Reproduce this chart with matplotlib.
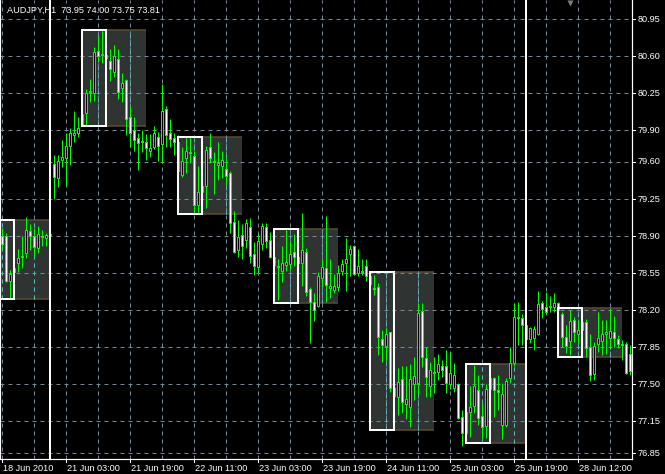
import matplotlib
matplotlib.use('Agg')
import matplotlib.pyplot as plt
from matplotlib.patches import Rectangle

title = 'AUDJPY,H1  73.95 74.00 73.75 73.81'

# hourly bars, left to right
opens = [78.90, 78.90, 78.48, 78.56, 78.65, 78.70, 78.74, 78.95, 78.90, 78.79,
         78.90, 78.88, 78.91, 79.58, 79.45, 79.62, 79.64, 79.75, 79.85, 79.87,
         79.95, 80.06, 80.26, 80.25, 80.65, 80.61, 80.61, 80.55, 80.45, 80.57,
         80.30, 80.37, 80.02, 79.90, 79.83, 79.80, 79.79, 79.70, 79.74, 79.84,
         79.77, 80.10, 79.87, 79.83, 79.79, 79.48, 79.64, 79.69, 79.66, 79.19,
         79.32, 79.37, 79.74, 79.61, 79.57, 79.56, 79.53, 79.50, 79.03, 78.77,
         78.91, 78.86, 78.99, 78.73, 78.61, 78.83, 78.99, 78.86, 78.70, 78.62,
         78.57, 78.63, 78.64, 78.75, 78.70, 78.65, 78.75, 78.40, 78.28, 78.24,
         78.50, 78.60, 78.41, 78.39, 78.42, 78.57, 78.65, 78.73, 78.81, 78.55,
         78.57, 78.62, 78.52, 78.41, 78.42, 77.93, 77.86, 77.99, 77.47, 77.38,
         77.55, 77.31, 77.29, 77.50, 77.51, 78.19, 77.75, 77.48, 77.61, 77.62,
         77.67, 77.67, 77.50, 77.47, 77.50, 77.19, 77.04, 77.24, 77.30, 77.45,
         77.20, 77.11, 77.46, 77.56, 77.45, 77.12, 77.12, 77.56, 77.70, 78.14,
         78.13, 78.06, 77.93, 77.94, 77.98, 78.27, 78.23, 78.23, 78.23, 78.27,
         78.16, 77.95, 77.91, 78.11, 77.98, 78.01, 78.09, 77.85, 77.60, 77.88,
         77.91, 77.98, 77.94, 77.99, 77.93, 77.88, 77.88, 77.79]
highs = [78.98, 78.93, 78.58, 78.63, 78.78, 78.90, 79.08, 79.01, 78.98, 79.00,
         78.96, 78.93, 78.95, 79.67, 79.67, 79.81, 79.87, 79.92, 80.08, 80.02,
         80.08, 80.29, 80.38, 80.69, 80.79, 80.85, 80.68, 80.67, 80.70, 80.67,
         80.44, 80.38, 80.13, 80.02, 79.87, 79.90, 79.86, 79.86, 79.94, 79.88,
         80.34, 80.13, 80.01, 79.87, 79.85, 79.74, 79.83, 79.84, 79.70, 79.56,
         79.40, 79.75, 79.87, 79.69, 79.79, 79.70, 79.64, 79.51, 79.14, 79.05,
         79.01, 79.06, 79.07, 78.84, 78.92, 79.02, 79.02, 78.94, 78.73, 78.68,
         78.81, 78.97, 78.85, 78.92, 78.77, 79.12, 78.79, 78.42, 78.36, 78.56,
         78.68, 79.09, 78.68, 78.54, 78.63, 78.68, 78.88, 78.82, 78.82, 78.78,
         78.68, 78.68, 78.55, 78.53, 78.46, 78.01, 78.03, 77.99, 77.54, 77.65,
         77.67, 77.67, 77.69, 77.76, 78.27, 78.27, 77.85, 77.71, 77.76, 77.79,
         77.73, 77.82, 77.81, 77.70, 77.51, 77.26, 77.26, 77.48, 77.68, 77.59,
         77.32, 77.50, 77.59, 77.57, 77.59, 77.51, 77.56, 77.85, 78.27, 78.28,
         78.16, 78.09, 78.04, 78.05, 78.38, 78.29, 78.37, 78.33, 78.36, 78.28,
         78.18, 78.06, 78.20, 78.14, 78.11, 78.13, 78.12, 77.98, 77.90, 78.18,
         78.11, 78.11, 78.21, 78.15, 77.97, 77.92, 77.90, 77.87]
lows = [78.78, 78.47, 78.31, 78.52, 78.56, 78.60, 78.69, 78.77, 78.70, 78.74,
        78.81, 78.81, 78.88, 79.25, 79.36, 79.55, 79.37, 79.57, 79.79, 79.84,
        79.94, 79.94, 80.17, 80.18, 80.54, 80.53, 80.54, 80.36, 80.40, 80.19,
        80.17, 79.85, 79.74, 79.70, 79.52, 79.69, 79.62, 79.65, 79.72, 79.61,
        79.59, 79.74, 79.74, 79.67, 79.43, 79.46, 79.50, 79.59, 79.11, 79.12,
        79.24, 79.17, 79.59, 79.30, 79.43, 79.45, 79.38, 78.93, 78.74, 78.70,
        78.68, 78.79, 78.65, 78.53, 78.55, 78.77, 78.79, 78.69, 78.55, 78.30,
        78.47, 78.57, 78.58, 78.62, 78.58, 78.43, 78.33, 77.89, 78.10, 78.23,
        78.42, 78.28, 78.32, 78.36, 78.38, 78.53, 78.38, 78.52, 78.53, 78.52,
        78.53, 78.48, 78.41, 78.34, 77.78, 77.71, 77.72, 77.43, 77.08, 77.21,
        77.23, 77.17, 77.10, 77.35, 77.41, 77.66, 77.38, 77.38, 77.42, 77.54,
        77.57, 77.42, 77.46, 77.43, 77.17, 76.92, 77.01, 77.00, 77.23, 77.12,
        76.98, 76.99, 77.40, 77.19, 77.26, 76.98, 77.10, 77.51, 77.67, 77.87,
        77.87, 77.90, 77.89, 77.82, 77.97, 78.13, 78.16, 78.18, 78.18, 78.18,
        77.85, 77.80, 77.78, 77.90, 77.88, 77.96, 77.76, 77.53, 77.54, 77.81,
        77.78, 77.79, 77.84, 77.85, 77.84, 77.73, 77.60, 77.59]
closes = [78.83, 78.48, 78.54, 78.60, 78.69, 78.71, 78.96, 78.90, 78.80, 78.92,
          78.89, 78.91, 78.92, 79.46, 79.61, 79.65, 79.75, 79.87, 79.87, 79.92,
          80.05, 80.25, 80.27, 80.64, 80.60, 80.62, 80.58, 80.48, 80.60, 80.26,
          80.35, 80.01, 79.87, 79.81, 79.78, 79.79, 79.73, 79.73, 79.87, 79.75,
          80.08, 79.85, 79.82, 79.79, 79.51, 79.61, 79.70, 79.68, 79.19, 79.32,
          79.37, 79.71, 79.64, 79.60, 79.59, 79.62, 79.47, 79.02, 78.75, 78.89,
          78.81, 79.02, 78.71, 78.62, 78.85, 79.00, 78.85, 78.70, 78.63, 78.61,
          78.65, 78.66, 78.73, 78.70, 78.65, 78.77, 78.37, 78.28, 78.20, 78.52,
          78.61, 78.44, 78.43, 78.43, 78.55, 78.64, 78.68, 78.78, 78.54, 78.62,
          78.56, 78.52, 78.45, 78.40, 77.95, 77.87, 77.98, 77.47, 77.39, 77.52,
          77.33, 77.36, 77.55, 77.58, 78.17, 77.76, 77.57, 77.64, 77.62, 77.69,
          77.64, 77.51, 77.61, 77.59, 77.18, 77.04, 77.24, 77.29, 77.48, 77.18,
          77.10, 77.46, 77.56, 77.45, 77.43, 77.41, 77.53, 77.70, 78.14, 78.13,
          78.06, 77.93, 78.03, 78.02, 78.26, 78.21, 78.18, 78.24, 78.27, 78.20,
          77.95, 77.86, 78.10, 77.99, 78.01, 78.09, 77.84, 77.59, 77.86, 77.94,
          77.98, 77.99, 78.00, 77.94, 77.88, 77.87, 77.61, 77.63]

price_ticks = [80.95, 80.60, 80.25, 79.90, 79.60, 79.25, 78.90,
               78.55, 78.20, 77.85, 77.50, 77.15, 76.85]
time_bars = [0, 16, 32, 48, 64, 80, 96, 112, 128, 144]
time_labels = ['18 Jun 2010', '21 Jun 03:00', '21 Jun 19:00', '22 Jun 11:00',
               '23 Jun 03:00', '23 Jun 19:00', '24 Jun 11:00', '25 Jun 03:00',
               '25 Jun 19:00', '28 Jun 12:00']
separator_bars = [12, 131]

# morning range boxes and the zone they project to the end of the day
box_start = [-3, 20, 44, 68, 92, 116, 139]
box_end = [3, 26, 50, 74, 98, 122, 145]
zone_end = [12, 36, 60, 84, 108, 131, 155]
box_top = [79.05, 80.85, 79.84, 78.97, 78.56, 77.69, 78.22]
box_bottom = [78.31, 79.94, 79.11, 78.27, 77.07, 76.95, 77.76]

W, H = 665, 474
PX = 0.72  # one pixel in points
BG = 'black'
GRID = '#778899'
LIME = '#00ff00'
FG = '#ffffff'
FONT = 'Liberation Sans'
FS = 6.6

fig = plt.figure(figsize=(W / 100, H / 100), dpi=100, facecolor=BG)
ax = fig.add_axes([0, (H - 459) / H, 632 / W, 459 / H], facecolor=BG)
ax.set_xlim(-0.5, 157.5)
ax.set_ylim(80.95 - (459 - 19) / 105.9, 80.95 + 19 / 105.9)

# zones
for s, z, t, b in zip(box_start, zone_end, box_top, box_bottom):
    ax.add_patch(Rectangle((s, b), z - s, t - b, facecolor='#2f3433',
                           edgecolor='none', zorder=1))
    ax.hlines([t, b], s, z, color='#5e4d33', lw=PX * 1.5, zorder=1.5)

# grid
grid_bars = list(range(0, 158, 8))
for p in price_ticks:
    ax.axhline(p, color=GRID, lw=PX, ls=(0, (4, 4)), zorder=2)
for g in grid_bars:
    ax.axvline(g, color=GRID, lw=PX, ls=(0, (4, 4)), zorder=2)
    for s, z, t, b in zip(box_start, zone_end, box_top, box_bottom):
        if s < g < z:
            ax.vlines(g, b, t, color='#5fb8b8', lw=PX, ls=(0, (4, 4)), zorder=2.1)

# candles
for i, (o, h, l, c) in enumerate(zip(opens, highs, lows, closes)):
    ax.vlines(i, l, h, color=LIME, lw=PX, zorder=3)
    lo, hi = min(o, c), max(o, c)
    if hi - lo < 0.005:
        ax.hlines(o, i - 0.3, i + 0.3, color=LIME, lw=PX, zorder=3.5)
    else:
        ax.add_patch(Rectangle((i - 0.25, lo), 0.5, hi - lo,
                               facecolor='white' if c < o else 'black',
                               edgecolor=LIME, lw=PX, zorder=3.5))

# range boxes
for s, e, t, b in zip(box_start, box_end, box_top, box_bottom):
    ax.add_patch(Rectangle((s, b), e - s, t - b, facecolor='none',
                           edgecolor='white', lw=2 * PX, zorder=4,
                           joinstyle='miter'))

for sb in separator_bars:
    ax.axvline(sb, color='white', lw=2 * PX, zorder=5)

ax.plot([142], [81.105], marker='v', ms=5, color='#808080', mec='none',
        zorder=6, clip_on=False)

ax.set_xticks([])
ax.set_yticks([])
ax.spines['top'].set_visible(False)
for side in ['left', 'right', 'bottom']:
    ax.spines[side].set_color(FG)
    ax.spines[side].set_linewidth(PX * 1.2)

ax.text(7 / 632, 1 - 10 / 459, title, transform=ax.transAxes, color=FG,
        fontsize=FS, family=FONT, va='center', ha='left', zorder=7)

# price scale
for p in price_ticks:
    ax.plot([157.5, 158.2], [p, p], color=FG, lw=PX, clip_on=False)
    ax.text(158.9, p, '%.2f' % p, color=FG, fontsize=FS, family=FONT,
            va='center', ha='left', clip_on=False)

# time scale
ylo = ax.get_ylim()[0]
for tb, lab in zip(time_bars, time_labels):
    ax.plot([tb, tb], [ylo, ylo - 0.03], color=FG, lw=PX, clip_on=False)
    ax.text(tb + 0.3, ylo - 0.05, lab, color=FG, fontsize=FS, family=FONT,
            va='top', ha='left', clip_on=False)

fig.savefig('out.png', dpi=100, facecolor=BG)
